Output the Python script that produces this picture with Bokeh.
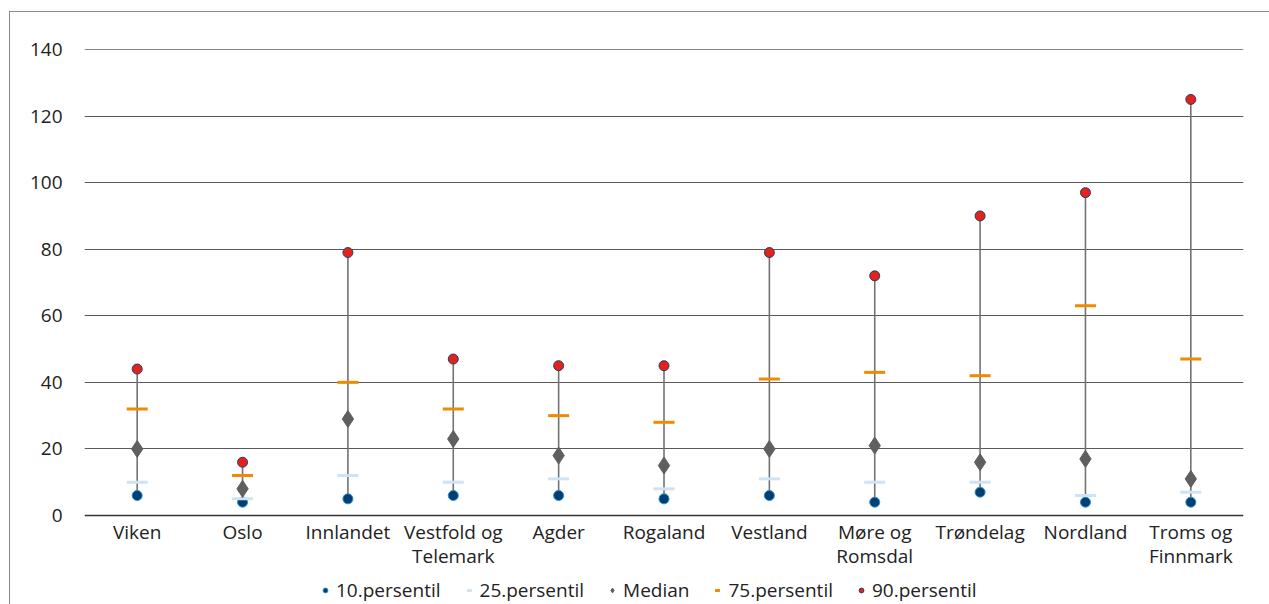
from bokeh.plotting import figure
from bokeh.models import FixedTicker, Legend, LegendItem, ColumnDataSource, Range1d, Span
from bokeh.core.properties import value
from bokeh.embed import file_html
from bokeh.resources import INLINE

regions = ["Viken", "Oslo", "Innlandet", "Vestfold og\nTelemark", "Agder", "Rogaland",
           "Vestland", "Møre og\nRomsdal", "Trøndelag", "Nordland", "Troms og\nFinnmark"]
p10 = [6, 4, 5, 6, 6, 5, 6, 4, 7, 4, 4]
p25 = [10, 5, 12, 10, 11, 8, 11, 10, 10, 6, 7]
median = [20, 8, 29, 23, 18, 15, 20, 21, 16, 17, 11]
p75 = [32, 12, 40, 32, 30, 28, 41, 43, 42, 63, 47]
p90 = [44, 16, 79, 47, 45, 45, 79, 72, 90, 97, 125]
y_ticks = [0, 20, 40, 60, 80, 100, 120, 140]

FONT = "Open Sans"
LABEL_Y = -1.2      # category labels just below the zero line
Y_BOTTOM = -26.74   # room below zero for category labels and legend
xs = list(range(len(regions)))
src = ColumnDataSource(dict(x=xs, p10=p10, p25=p25, med=median, p75=p75, p90=p90))
lab_src = ColumnDataSource(dict(x=xs, y=[LABEL_Y] * len(xs), text=regions))

p = figure(frame_width=1159, frame_height=555, output_backend="svg", toolbar_location=None,
           x_axis_location=None,
           x_range=Range1d(-0.5, len(regions) - 0.5), y_range=Range1d(Y_BOTTOM, y_ticks[-1]),
           min_border_left=74, min_border_right=26, min_border_top=37, min_border_bottom=0)
p.styles = {"margin-left": "9px", "margin-top": "11px",
            "border-left": "1px solid #8a8a8a", "border-top": "1px solid #8a8a8a"}
p.outline_line_color = None

p.xgrid.grid_line_color = None
p.ygrid.ticker = FixedTicker(ticks=y_ticks[1:-1])
p.ygrid.grid_line_color = "#5a5a5a"
p.ygrid.grid_line_width = 1.2
p.add_layout(Span(location=y_ticks[-1], dimension="width", line_color="#111111", line_width=1))
p.add_layout(Span(location=y_ticks[0], dimension="width", line_color="#333333", line_width=1.5))

p.segment(x0="x", y0="p10", x1="x", y1="p90", source=src, line_color="#737373", line_width=1.6)

r10 = p.scatter("x", "p10", source=src, marker="circle", size=10, fill_color="#003e73",
                line_color="#2a8fd0", line_width=1)
r25 = p.scatter("x", "p25", source=src, marker="dash", size=21, line_color="#cfe3f4", line_width=3)
rmed = p.scatter("x", "med", source=src, marker="diamond", size=17, fill_color="#5f5f5f",
                 line_color="#5f5f5f")
r75 = p.scatter("x", "p75", source=src, marker="dash", size=21, line_color="#f08a00", line_width=3)
r90 = p.scatter("x", "p90", source=src, marker="circle", size=10, fill_color="#e4211b",
                line_color="#1f3f6e", line_width=1)

p.text(x="x", y="y", text="text", source=lab_src, text_align="center", text_baseline="top",
       text_font=value(FONT), text_font_size="19px", text_color="#222222",
       text_line_height=0.91)

p.yaxis.ticker = FixedTicker(ticks=y_ticks)
p.yaxis.axis_line_color = None
p.yaxis.major_tick_line_color = None
p.yaxis.minor_tick_line_color = None
p.yaxis.major_label_text_font = FONT
p.yaxis.major_label_text_font_size = "19px"
p.yaxis.major_label_text_color = "#222222"
p.yaxis.major_label_standoff = 16

legend = Legend(items=[
    LegendItem(label="10.persentil", renderers=[r10]),
    LegendItem(label="25.persentil", renderers=[r25]),
    LegendItem(label="Median", renderers=[rmed]),
    LegendItem(label="75.persentil", renderers=[r75]),
    LegendItem(label="90.persentil", renderers=[r90]),
], orientation="horizontal", location=(235, 1))
legend.label_text_font = FONT
legend.label_text_font_size = "19px"
legend.label_text_color = "#222222"
legend.border_line_color = None
legend.background_fill_alpha = 0
legend.glyph_width = 12
legend.glyph_height = 20
legend.spacing = 22
legend.label_standoff = 5
legend.padding = 0
legend.margin = 0
p.add_layout(legend, "center")

open("out.html", "w").write(file_html(p, INLINE))
